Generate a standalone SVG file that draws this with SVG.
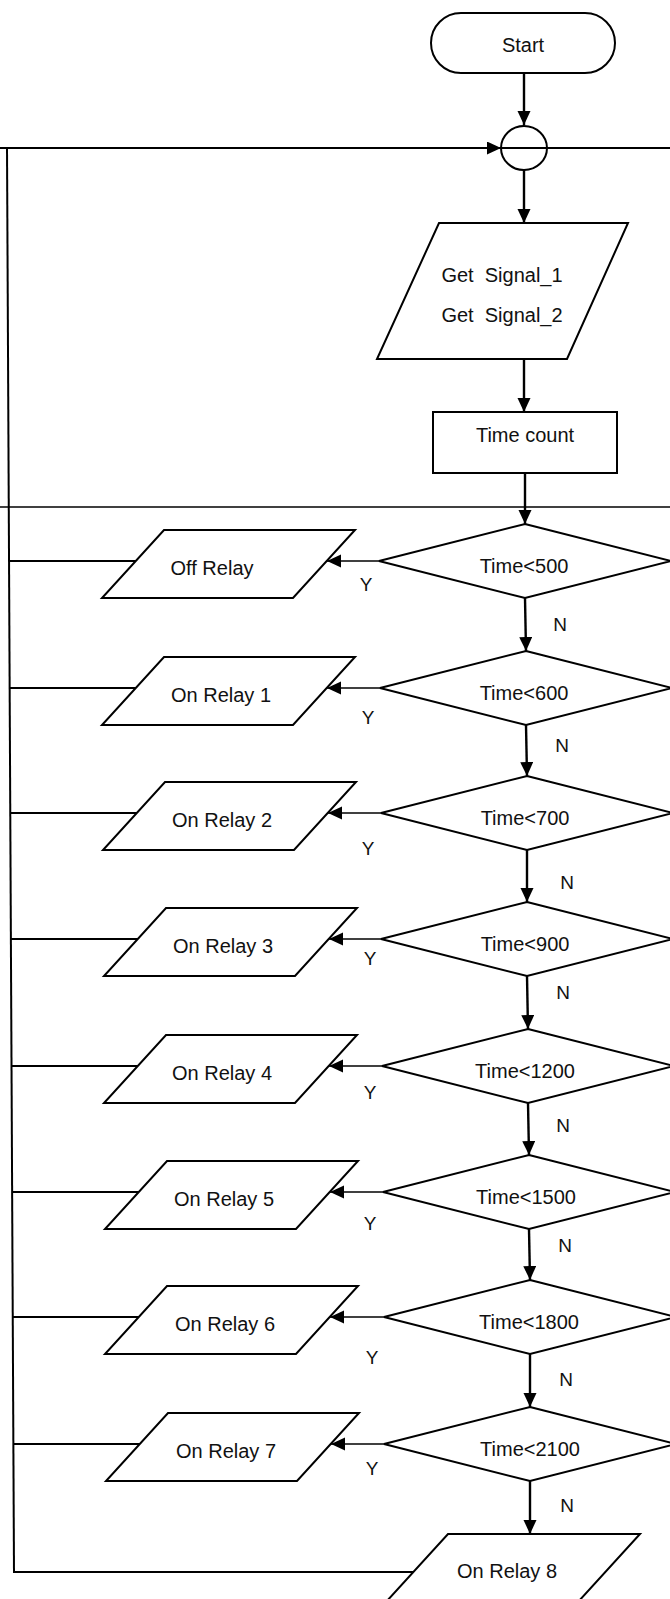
<svg xmlns="http://www.w3.org/2000/svg" width="670" height="1599" viewBox="0 0 670 1599">
  <style>
    .shape { fill: #ffffff; stroke: #000000; stroke-width: 2; stroke-linejoin: miter; }
    .ring { fill: none; stroke: #000000; stroke-width: 2; }
    .wire { fill: none; stroke: #000000; stroke-width: 2; }
    .thin { fill: none; stroke: #000000; stroke-width: 1.5; }
    .flow { fill: none; stroke: #000000; stroke-width: 2.4; }
    .lbl { font-family: "Liberation Sans", Arial, sans-serif; font-size: 20px; fill: #111111; text-anchor: middle; }
    .yn { font-family: "Liberation Sans", Arial, sans-serif; font-size: 19px; fill: #111111; text-anchor: middle; }
  </style>
  <defs>
    <marker id="head" markerUnits="userSpaceOnUse" markerWidth="15" markerHeight="14" refX="14" refY="6.5" orient="auto">
      <path d="M0,0 L14,6.5 L0,13 Z" fill="#000000"/>
    </marker>
  </defs>

  <rect width="670" height="1599" fill="#ffffff"/>

  <!-- connectors -->
  <g id="connectors">
    <!-- loop return bus along the top, through the junction -->
    <line class="wire" x1="0" y1="148" x2="670" y2="148"/>
    <line class="wire" x1="0" y1="148" x2="501" y2="148" marker-end="url(#head)"/>
    <!-- separator line above the decision chain -->
    <line class="thin" x1="0" y1="507" x2="670" y2="507"/>
    <!-- left return rail -->
    <line class="wire" x1="7" y1="147" x2="14" y2="1573"/>
    <line class="wire" x1="14" y1="1572" x2="413" y2="1572"/>

    <!-- main flow -->
    <line class="flow" x1="524" y1="73" x2="524" y2="125" marker-end="url(#head)"/>
    <line class="flow" x1="524" y1="170" x2="524" y2="223" marker-end="url(#head)"/>
    <line class="flow" x1="524" y1="359" x2="524" y2="412" marker-end="url(#head)"/>
    <line class="flow" x1="525" y1="473" x2="525" y2="524" marker-end="url(#head)"/>

    <!-- N branches -->
    <line class="flow" x1="525" y1="598" x2="526" y2="651" marker-end="url(#head)"/>
    <line class="flow" x1="526" y1="725" x2="527" y2="776" marker-end="url(#head)"/>
    <line class="flow" x1="527" y1="850" x2="527" y2="902" marker-end="url(#head)"/>
    <line class="flow" x1="527" y1="976" x2="528" y2="1029" marker-end="url(#head)"/>
    <line class="flow" x1="528" y1="1103" x2="529" y2="1155" marker-end="url(#head)"/>
    <line class="flow" x1="529" y1="1229" x2="530" y2="1280" marker-end="url(#head)"/>
    <line class="flow" x1="530" y1="1354" x2="530" y2="1407" marker-end="url(#head)"/>
    <line class="flow" x1="530" y1="1481" x2="530" y2="1534" marker-end="url(#head)"/>

    <!-- Y branches -->
    <line class="thin" x1="379" y1="561" x2="327" y2="561" marker-end="url(#head)"/>
    <line class="thin" x1="380" y1="688" x2="327" y2="688" marker-end="url(#head)"/>
    <line class="thin" x1="381" y1="813" x2="328" y2="813" marker-end="url(#head)"/>
    <line class="thin" x1="381" y1="939" x2="329" y2="939" marker-end="url(#head)"/>
    <line class="thin" x1="382" y1="1066" x2="329" y2="1066" marker-end="url(#head)"/>
    <line class="thin" x1="383" y1="1192" x2="330" y2="1192" marker-end="url(#head)"/>
    <line class="thin" x1="384" y1="1317" x2="330" y2="1317" marker-end="url(#head)"/>
    <line class="thin" x1="384" y1="1444" x2="331" y2="1444" marker-end="url(#head)"/>

    <!-- outputs back to the return rail -->
    <line class="wire" x1="9" y1="561" x2="136" y2="561"/>
    <line class="wire" x1="10" y1="688" x2="136" y2="688"/>
    <line class="wire" x1="10" y1="813" x2="137" y2="813"/>
    <line class="wire" x1="11" y1="939" x2="138" y2="939"/>
    <line class="wire" x1="11" y1="1066" x2="138" y2="1066"/>
    <line class="wire" x1="12" y1="1192" x2="139" y2="1192"/>
    <line class="wire" x1="13" y1="1317" x2="139" y2="1317"/>
    <line class="wire" x1="13" y1="1444" x2="140" y2="1444"/>

    <!-- branch labels -->
    <text class="yn" x="366" y="591">Y</text>
    <text class="yn" x="368" y="724">Y</text>
    <text class="yn" x="368" y="855">Y</text>
    <text class="yn" x="370" y="965">Y</text>
    <text class="yn" x="370" y="1099">Y</text>
    <text class="yn" x="370" y="1230">Y</text>
    <text class="yn" x="372" y="1364">Y</text>
    <text class="yn" x="372" y="1475">Y</text>

    <text class="yn" x="560" y="631">N</text>
    <text class="yn" x="562" y="752">N</text>
    <text class="yn" x="567" y="889">N</text>
    <text class="yn" x="563" y="999">N</text>
    <text class="yn" x="563" y="1132">N</text>
    <text class="yn" x="565" y="1252">N</text>
    <text class="yn" x="566" y="1386">N</text>
    <text class="yn" x="567" y="1512">N</text>
  </g>

  <!-- nodes -->
  <g id="start">
    <rect class="shape" x="431" y="13" width="184" height="60" rx="30" ry="30"/>
    <text class="lbl" x="523" y="52">Start</text>
  </g>

  <g id="junction">
    <ellipse class="ring" cx="524" cy="148" rx="23" ry="22"/>
  </g>

  <g id="get-signals">
    <polygon class="shape" points="439,223 628,223 567,359 377,359"/>
    <text class="lbl" x="502" y="282" font-size="19" xml:space="preserve">Get  Signal_1</text>
    <text class="lbl" x="502" y="322" font-size="19" xml:space="preserve">Get  Signal_2</text>
  </g>

  <g id="time-count">
    <rect class="shape" x="433" y="412" width="184" height="61"/>
    <text class="lbl" x="525" y="442">Time count</text>
  </g>

  <g id="check-500">
    <polygon class="shape" points="525,524 671,561 525,598 379,561"/>
    <text class="lbl" x="524" y="573">Time&lt;500</text>
  </g>
  <g id="off-relay">
    <polygon class="shape" points="164,530 355,530 293,598 102,598"/>
    <text class="lbl" x="212" y="575">Off Relay</text>
  </g>

  <g id="check-600">
    <polygon class="shape" points="526,651 672,688 526,725 380,688"/>
    <text class="lbl" x="524" y="700">Time&lt;600</text>
  </g>
  <g id="relay-1">
    <polygon class="shape" points="164,657 355,657 293,725 102,725"/>
    <text class="lbl" x="221" y="702">On Relay 1</text>
  </g>

  <g id="check-700">
    <polygon class="shape" points="527,776 673,813 527,850 381,813"/>
    <text class="lbl" x="525" y="825">Time&lt;700</text>
  </g>
  <g id="relay-2">
    <polygon class="shape" points="165,782 356,782 294,850 103,850"/>
    <text class="lbl" x="222" y="827">On Relay 2</text>
  </g>

  <g id="check-900">
    <polygon class="shape" points="527,902 673,939 527,976 381,939"/>
    <text class="lbl" x="525" y="951">Time&lt;900</text>
  </g>
  <g id="relay-3">
    <polygon class="shape" points="166,908 357,908 295,976 104,976"/>
    <text class="lbl" x="223" y="953">On Relay 3</text>
  </g>

  <g id="check-1200">
    <polygon class="shape" points="528,1029 674,1066 528,1103 382,1066"/>
    <text class="lbl" x="525" y="1078">Time&lt;1200</text>
  </g>
  <g id="relay-4">
    <polygon class="shape" points="166,1035 357,1035 295,1103 104,1103"/>
    <text class="lbl" x="222" y="1080">On Relay 4</text>
  </g>

  <g id="check-1500">
    <polygon class="shape" points="529,1155 675,1192 529,1229 383,1192"/>
    <text class="lbl" x="526" y="1204">Time&lt;1500</text>
  </g>
  <g id="relay-5">
    <polygon class="shape" points="167,1161 358,1161 296,1229 105,1229"/>
    <text class="lbl" x="224" y="1206">On Relay 5</text>
  </g>

  <g id="check-1800">
    <polygon class="shape" points="530,1280 676,1317 530,1354 384,1317"/>
    <text class="lbl" x="529" y="1329">Time&lt;1800</text>
  </g>
  <g id="relay-6">
    <polygon class="shape" points="167,1286 358,1286 296,1354 105,1354"/>
    <text class="lbl" x="225" y="1331">On Relay 6</text>
  </g>

  <g id="check-2100">
    <polygon class="shape" points="530,1407 676,1444 530,1481 384,1444"/>
    <text class="lbl" x="530" y="1456">Time&lt;2100</text>
  </g>
  <g id="relay-7">
    <polygon class="shape" points="168,1413 359,1413 297,1481 106,1481"/>
    <text class="lbl" x="226" y="1458">On Relay 7</text>
  </g>

  <g id="relay-8">
    <polygon class="shape" points="448,1534 640,1534 578,1602 386,1602"/>
    <text class="lbl" x="507" y="1578">On Relay 8</text>
  </g>
</svg>
